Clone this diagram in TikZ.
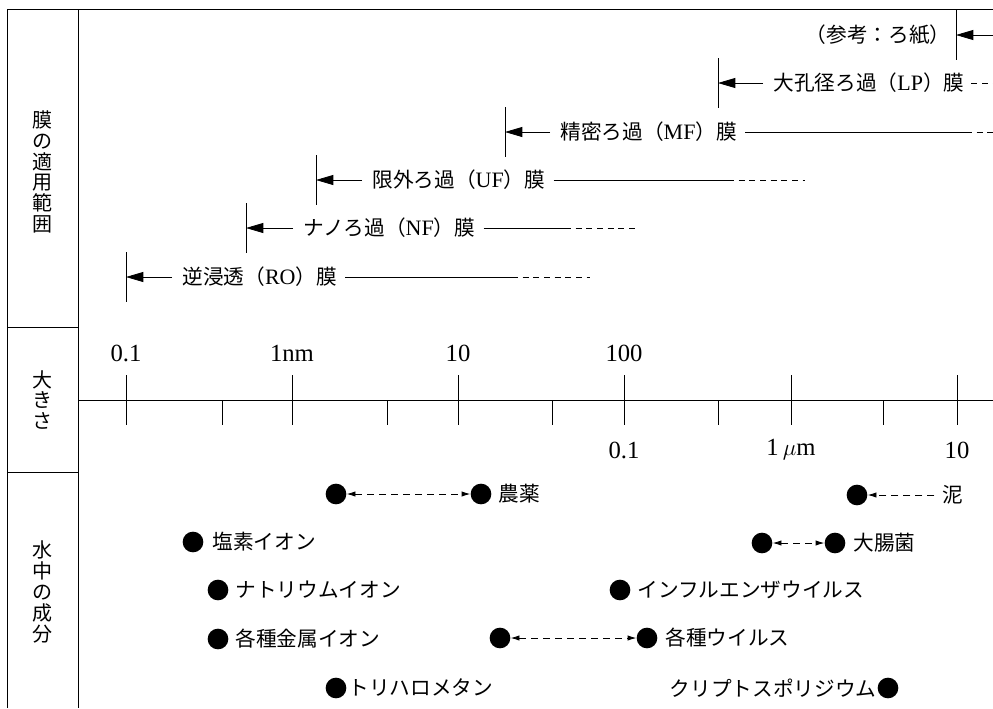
\documentclass[tikz,border=0pt]{standalone}
\usepackage{fontspec}
\setmainfont{Liberation Serif}
\newfontfamily\jpfont{Noto Sans CJK JP}
\usetikzlibrary{arrows.meta}

\newcommand{\lat}[1]{{\rmfamily\fontsize{16.5}{18}\selectfont #1}}

\tikzset{every picture/.style={line width=0.6pt}}
\tikzset{
	vtext/.style={font=\jpfont\fontsize{15}{15.6}\selectfont, align=center, inner sep=0pt},
	mlbl/.style={font=\jpfont\fontsize{15.5}{18}\selectfont, inner sep=0pt, anchor=west},
	clbl/.style={font=\jpfont\fontsize{15.5}{18}\selectfont, inner sep=0pt, anchor=west},
	num/.style={font=\fontsize{18.5}{20}\selectfont, inner sep=0pt},
	bigdot/.style={circle, fill=black, draw=none, minimum size=15.5pt, inner sep=0pt},
	memarrow/.style={-{Triangle[length=13pt,width=7.5pt]}},
	dashline/.style={dash pattern={on 4.5pt off 3.5pt}},
	smalltip/.style={dash pattern={on 5.5pt off 3.5pt}},
	dbltip/.style={{Latex[length=6.5pt,width=4pt]}-{Latex[length=6.5pt,width=4pt]}},
	onetip/.style={-{Latex[length=6.5pt,width=4pt]}},
}

\begin{document}
\begin{tikzpicture}[x=0.75pt,y=0.75pt,yscale=-1]
	\useasboundingbox (0,0) rectangle (993,708);

	%Frame
	\draw (7,708) -- (7,9) -- (993,9) ;
	\draw (78,9) -- (78,708) ;
	\draw (7,327) -- (78,327) ;
	\draw (7,472) -- (78,472) ;

	% Text Node
	\node[vtext] (hdrange) at (42,172) {膜\\の\\適\\用\\範\\囲};
	% Text Node
	\node[vtext] (hdsize) at (42,400) {大\\き\\さ};
	% Text Node
	\node[vtext] (hdwater) at (42,592) {水\\中\\の\\成\\分};

	%Scale
	\draw (78,400) -- (993,400) ;
	\foreach \x in {126,292,458,624,791,957}
		\draw (\x,375) -- (\x,425) ;
	\foreach \x in {222,387,552,718,883}
		\draw (\x,400) -- (\x,425) ;
	% Text Node
	\node[num] (sa) at (126,353) {0.1};
	\node[num] (sb) at (292,353) {1nm};
	\node[num] (sc) at (458,353) {10};
	\node[num] (sd) at (624,353) {100};
	\node[num] (se) at (624,450) {0.1};
	\node[num] (sf) at (791,450) {1\,$\mu$m};
	\node[num] (sg) at (957,450) {10};

	%RO membrane
	\draw (126,252) -- (126,302) ;
	\coordinate (robar) at (126,277);
	\coordinate (roend) at (512,277);
	\coordinate (rodash) at (590,277);
	\node[mlbl] (ro) at (182,277) {逆浸透（\lat{RO}）膜};
	\draw[memarrow, shorten <=7.5pt] (ro.west) -- (robar) ;
	\draw[shorten <=6pt] (ro.east) -- (roend) ;
	\draw[dashline] (roend) -- (rodash) ;

	%NF membrane
	\draw (246,203) -- (246,253) ;
	\coordinate (nfbar) at (246,228);
	\coordinate (nfend) at (565,228);
	\coordinate (nfdash) at (638,228);
	\node[mlbl] (nf) at (303,228) {ナノろ過（\lat{NF}）膜};
	\draw[memarrow, shorten <=7.5pt] (nf.west) -- (nfbar) ;
	\draw[shorten <=6pt] (nf.east) -- (nfend) ;
	\draw[dashline] (nfend) -- (nfdash) ;

	%UF membrane
	\draw (316,155) -- (316,205) ;
	\coordinate (ufbar) at (316,180);
	\coordinate (ufend) at (728,180);
	\coordinate (ufdash) at (805,180);
	\node[mlbl] (uf) at (372,180) {限外ろ過（\lat{UF}）膜};
	\draw[memarrow, shorten <=7.5pt] (uf.west) -- (ufbar) ;
	\draw[shorten <=6pt] (uf.east) -- (ufend) ;
	\draw[dashline] (ufend) -- (ufdash) ;

	%MF membrane
	\draw (505,107) -- (505,157) ;
	\coordinate (mfbar) at (505,132);
	\coordinate (mfend) at (966,132);
	\coordinate (mfdash) at (993,132);
	\node[mlbl] (mf) at (560,132) {精密ろ過（\lat{MF}）膜};
	\draw[memarrow, shorten <=7.5pt] (mf.west) -- (mfbar) ;
	\draw[shorten <=6pt] (mf.east) -- (mfend) ;
	\draw[dashline] (mfend) -- (mfdash) ;

	%LP membrane
	\draw (718,58) -- (718,108) ;
	\coordinate (lpbar) at (718,83);
	\coordinate (lpdash) at (993,83);
	\node[mlbl] (lp) at (773,83) {大孔径ろ過（\lat{LP}）膜};
	\draw[memarrow, shorten <=7.5pt] (lp.west) -- (lpbar) ;
	\draw[dashline, shorten <=5pt] (lp.east) -- (lpdash) ;

	%Filter paper
	\draw (956,9) -- (956,60) ;
	\coordinate (ppbar) at (956,35);
	\coordinate (ppin) at (993,35);
	\node[mlbl, anchor=east] (pp) at (951,35) {（参考：ろ紙）};
	\draw[memarrow] (ppin) -- (ppbar) ;

	%Components
	\node[bigdot] (pesta) at (336,494) {};
	\node[bigdot] (pestb) at (481,494) {};
	\node[clbl] (pest) at (498,494) {農薬};
	\draw[smalltip, dbltip] (pesta) -- (pestb) ;

	\node[bigdot] (mud) at (857,495) {};
	\node[clbl, anchor=center] (mudt) at (953,495) {泥};
	\draw[smalltip, onetip, shorten <=6pt] (mudt) -- (mud) ;

	\node[bigdot] (chl) at (193,542) {};
	\node[clbl] (chlt) at (212,542) {塩素イオン};

	\node[bigdot] (ecoa) at (762,543) {};
	\node[bigdot] (ecob) at (835,543) {};
	\node[clbl] (eco) at (853,543) {大腸菌};
	\draw[smalltip, dbltip] (ecoa) -- (ecob) ;

	\node[bigdot] (sod) at (218,590) {};
	\node[clbl] (sodt) at (235,590) {ナトリウムイオン};

	\node[bigdot] (flu) at (620,590) {};
	\node[clbl] (flut) at (637,590) {インフルエンザウイルス};

	\node[bigdot] (met) at (218,639) {};
	\node[clbl] (mett) at (235,639) {各種金属イオン};

	\node[bigdot] (vira) at (500,638) {};
	\node[bigdot] (virb) at (647,638) {};
	\node[clbl] (vir) at (665,638) {各種ウイルス};
	\draw[smalltip, dbltip] (vira) -- (virb) ;

	\node[bigdot] (thm) at (336,688) {};
	\node[clbl] (thmt) at (348,688) {トリハロメタン};

	\node[bigdot] (cry) at (888,688) {};
	\node[clbl, anchor=east] (cryt) at (877,688) {クリプトスポリジウム};

\end{tikzpicture}
\end{document}
